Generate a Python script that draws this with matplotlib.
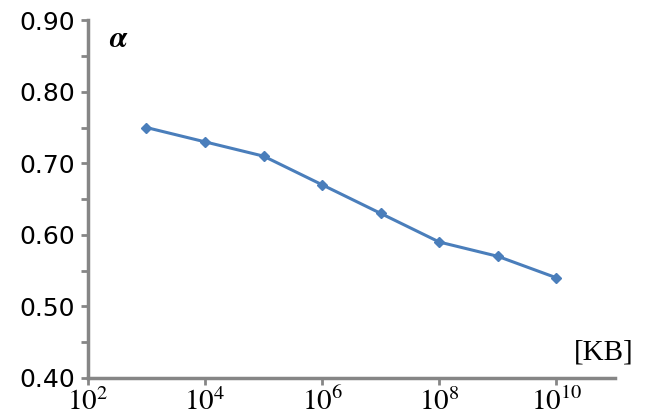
import matplotlib
matplotlib.use('Agg')
import matplotlib.pyplot as plt
from matplotlib.ticker import MultipleLocator, FixedLocator

plt.rcParams['mathtext.fontset'] = 'stix'

# data
sizes_kb = [1e3, 1e4, 1e5, 1e6, 1e7, 1e8, 1e9, 1e10]
alpha = [0.75, 0.73, 0.71, 0.67, 0.63, 0.59, 0.57, 0.54]
xtick_pos = [1e2, 1e4, 1e6, 1e8, 1e10]
xtick_labels = ['$10^{2}$', '$10^{4}$', '$10^{6}$', '$10^{8}$', '$10^{10}$']

grey = '#868686'
blue = '#4a7ebb'

fig = plt.figure(figsize=(6.46, 4.18), dpi=100)
ax = fig.add_axes([0.136, 0.0957, 0.816, 0.856])

ax.plot(sizes_kb, alpha, '-', color=blue, lw=2.2, marker='D', ms=5,
        markerfacecolor=blue, markeredgecolor=blue)

ax.set_xscale('log')
ax.set_xlim(1e2, 1e11)

ax.xaxis.set_major_locator(FixedLocator(xtick_pos))
ax.xaxis.set_minor_locator(FixedLocator([]))
ax.set_xticks(xtick_pos)
ax.set_xticklabels(xtick_labels, fontsize=21)

ax.yaxis.set_major_locator(MultipleLocator(0.10))
ax.yaxis.set_minor_locator(MultipleLocator(0.05))
ax.set_ylim(0.40, 0.90)
ax.set_yticks([0.4, 0.5, 0.6, 0.7, 0.8, 0.9])
ax.set_yticklabels(['0.40', '0.50', '0.60', '0.70', '0.80', '0.90'], fontsize=18)
ax.set_ylim(0.40, 0.90)

for s in ['top', 'right']:
    ax.spines[s].set_visible(False)
for s in ['left', 'bottom']:
    ax.spines[s].set_color(grey)
    ax.spines[s].set_linewidth(2.5)

ax.tick_params(which='both', direction='out', color=grey, width=2, length=5)
ax.tick_params(axis='x', pad=2)
ax.tick_params(axis='y', pad=4)

ax.text(0.04, 0.99, r'$\boldsymbol{\alpha}$', transform=ax.transAxes,
        fontsize=22, va='top', ha='left')
fig.text(0.98, 0.125, '[KB]', fontsize=21, family='Liberation Serif',
         ha='right', va='bottom')

fig.savefig('out.png', dpi=100)
